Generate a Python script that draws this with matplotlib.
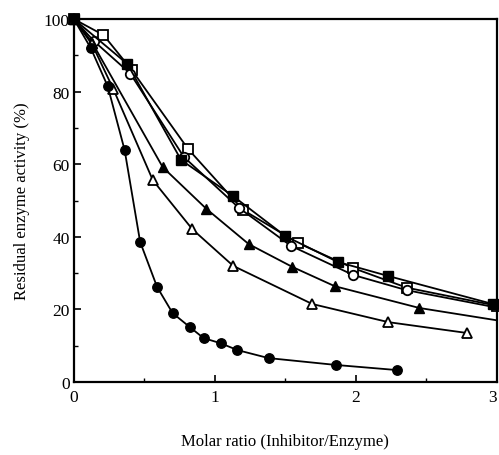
import numpy as np
import matplotlib
matplotlib.use("Agg")
import matplotlib.pyplot as plt
from matplotlib.ticker import MultipleLocator

plt.rcParams['font.family'] = ['Liberation Serif', 'DejaVu Serif']

# --- data (molar ratio, residual activity %) ---
circ_f_x = [0, 0.12, 0.24, 0.36, 0.47, 0.59, 0.70, 0.82, 0.92, 1.04, 1.16, 1.38, 1.86, 2.29]
circ_f_y = [100, 92, 81.5, 63.9, 38.6, 26.2, 19.0, 15.2, 12.1, 10.7, 8.8, 6.6, 4.7, 3.3]

tri_o_x = [0, 0.13, 0.28, 0.56, 0.84, 1.13, 1.69, 2.23, 2.79]
tri_o_y = [100, 93, 80.7, 55.6, 42.1, 32.0, 21.5, 16.5, 13.5]

tri_f_x = [0, 0.13, 0.63, 0.94, 1.24, 1.55, 1.85, 2.45, 3.0]
tri_f_y = [100, 93.5, 59.2, 47.7, 38.0, 31.7, 26.4, 20.4, 17.0]

sq_o_x = [0, 0.21, 0.41, 0.81, 1.20, 1.59, 1.98, 2.36, 3.0]
sq_o_y = [100, 95.6, 86.0, 64.2, 47.4, 38.3, 31.4, 26.0, 21.0]

circ_o_x = [0, 0.14, 0.40, 0.78, 1.17, 1.54, 1.98, 2.36, 3.0]
circ_o_y = [100, 94, 85, 62, 48, 37.5, 29.5, 25.3, 20.5]

sq_f_x = [0, 0.38, 0.76, 1.13, 1.50, 1.87, 2.23, 2.97]
sq_f_y = [100, 87.6, 61.2, 51.2, 40.2, 33.1, 29.2, 21.5]

fig = plt.figure(figsize=(4.99, 4.56), dpi=100)
ax = fig.add_axes([0.148, 0.160, 0.848, 0.796])

ms = 6.8
lw = 1.3
ax.plot(sq_o_x, sq_o_y, '-s', color='k', mfc='white', mec='k', ms=ms, lw=lw, mew=1.3, clip_on=False)
ax.plot(circ_o_x, circ_o_y, '-o', color='k', mfc='white', mec='k', ms=ms, lw=lw, mew=1.3,
        markevery=list(range(len(circ_o_x) - 1)), clip_on=False)
ax.plot(sq_f_x, sq_f_y, '-s', color='k', mfc='k', ms=ms, lw=lw, clip_on=False)
ax.plot(tri_f_x, tri_f_y, '-^', color='k', mfc='k', ms=ms + 0.5, lw=lw,
        markevery=list(range(len(tri_f_x) - 1)), clip_on=False)
ax.plot(tri_o_x, tri_o_y, '-^', color='k', mfc='white', mec='k', ms=ms + 0.5, lw=lw, mew=1.3, clip_on=False)
ax.plot(circ_f_x, circ_f_y, '-o', color='k', mfc='k', ms=ms, lw=lw, clip_on=False)

ax.set_xlim(0, 3)
ax.set_ylim(0, 100)
ax.xaxis.set_major_locator(MultipleLocator(1))
ax.xaxis.set_minor_locator(MultipleLocator(0.5))
ax.yaxis.set_major_locator(MultipleLocator(20))
ax.yaxis.set_minor_locator(MultipleLocator(10))
ax.tick_params(which='both', direction='in', top=False, right=False, labelsize=12.5)
ax.tick_params(which='major', length=5, width=1.2)
ax.tick_params(which='minor', length=3, width=1.0)
ax.tick_params(axis='x', pad=5)
ax.tick_params(axis='y', pad=3)
for s in ax.spines.values():
    s.set_linewidth(1.6)

# last x tick label sits against the right edge, like the original
xl = ax.get_xticklabels()
ax.set_xticks([0, 1, 2, 3])
ax.set_xticklabels(['0', '1', '2', '3'])
ax.get_xticklabels()[-1].set_ha('right')

ax.set_xlabel('Molar ratio (Inhibitor/Enzyme)', fontsize=12, labelpad=20)
ax.set_ylabel('Residual enzyme activity (%)', fontsize=12, labelpad=10)

fig.savefig('out.png', dpi=100)
